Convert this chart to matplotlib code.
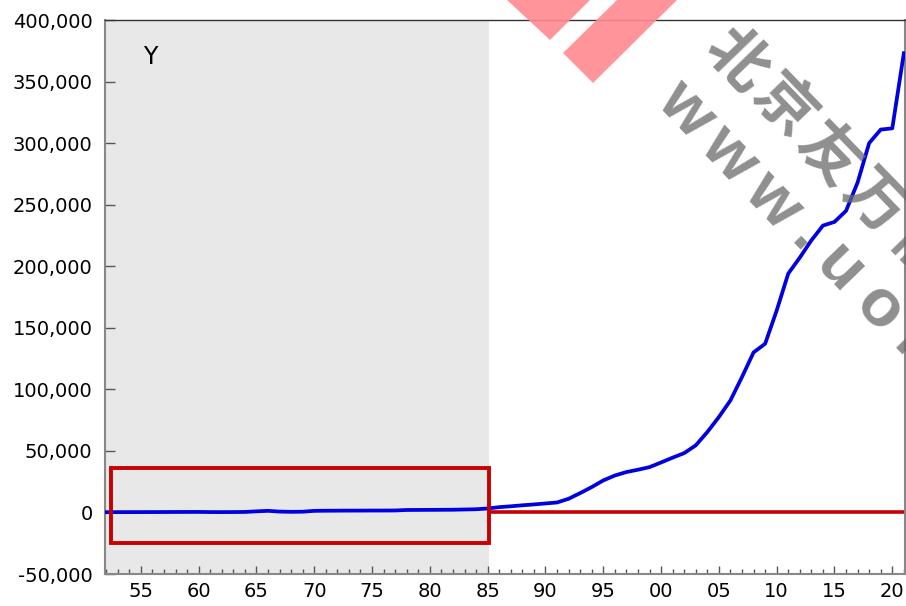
import matplotlib
matplotlib.use("Agg")
import matplotlib.pyplot as plt
from matplotlib.patches import Rectangle, Polygon
from matplotlib.ticker import MultipleLocator, FixedLocator, FuncFormatter
import numpy as np

# Annual series Y, 1952-2021
years = list(range(1952, 2022))
y_values = [
    200, 250, 270, 280, 320, 330, 380, 400, 420, 300,          # 1952-1961
    280, 320, 400, 900, 1300, 700, 500, 600, 1300, 1400,       # 1962-1971
    1450, 1500, 1500, 1550, 1550, 1600, 2000, 2050, 2100, 2150, # 1972-1981
    2200, 2400, 2600, 3200, 4300, 5000, 5800, 6500, 7300, 8100, # 1982-1991
    11100, 15700, 20600, 26000, 30000, 32800, 34700, 36800, 40600, 44500,  # 1992-2001
    48200, 54500, 65300, 77500, 91000, 110000, 130000, 137000, 164000, 194000,  # 2002-2011
    207000, 221000, 233000, 236000, 245000, 268000, 300000, 311000, 312000, 373000,  # 2012-2021
]

y_ticks = list(range(-50000, 400001, 50000))
x_major = list(range(1955, 2021, 5))

series_name = "Y"
shade_span = (1952, 1985.1)
box_x = (1952.4, 1985.1)
box_y = (-25000, 36500)
zero_from = 1985.1

W, H = 906, 606
fig = plt.figure(figsize=(W / 100, H / 100), dpi=100)
ax = fig.add_axes([105 / W, 1 - 574 / H, 800 / W, (574 - 20) / H])

ax.set_xlim(1951.9, 2021.1)
ax.set_ylim(-50000, 400000)

ax.axvspan(shade_span[0] - 1, shade_span[1], color="#e8e8e8", zorder=0, lw=0)

ax.plot(years, y_values, color="#0000e0", lw=2.7, zorder=3, solid_joinstyle="round")
ax.plot([zero_from, 2022], [0, 0], color="#c80000", lw=2.6, zorder=2)
ax.add_patch(Rectangle((box_x[0], box_y[0]), box_x[1] - box_x[0], box_y[1] - box_y[0],
                       fill=False, edgecolor="#c80000", lw=2.8, zorder=4))

ax.text((150 - 105) / 800, 1 - (57.5 - 20) / 554, series_name, transform=ax.transAxes,
        fontsize=17, ha="center", va="center", family="DejaVu Sans")

ax.yaxis.set_major_locator(FixedLocator(y_ticks))
ax.yaxis.set_major_formatter(FuncFormatter(lambda v, p: f"{int(v):,}"))
ax.xaxis.set_major_locator(FixedLocator(x_major))
ax.xaxis.set_minor_locator(MultipleLocator(1))
ax.xaxis.set_major_formatter(FuncFormatter(lambda v, p: f"{int(round(v)) % 100:02d}"))

ax.tick_params(axis="y", direction="in", length=7, width=1, color="#555555",
               labelsize=14, pad=9, right=False)
ax.tick_params(axis="x", which="major", direction="in", length=6, width=1,
               color="#555555", labelsize=14, pad=6, top=False)
ax.tick_params(axis="x", which="minor", direction="in", length=3.5, width=1,
               color="#555555", top=False)
for lab in ax.get_xticklabels() + ax.get_yticklabels():
    lab.set_family("DejaVu Sans")

ax.spines["top"].set_color("#333333")
ax.spines["top"].set_linewidth(1.0)
for s in ("left", "bottom", "right"):
    ax.spines[s].set_color("#888888")
    ax.spines[s].set_linewidth(1.5)


def px(x, y):
    return (x / W, 1 - y / H)


# Pink logo stripes at the top
for poly in ([(507, 0), (590, 0), (550, 40)],
             [(617, 0), (677, 0), (593, 83), (563, 53)]):
    fig.patches.append(Polygon([px(*p) for p in poly], closed=True,
                               transform=fig.transFigure, facecolor="#ff8a90",
                               edgecolor="none", alpha=0.9, zorder=10))

# Gray diagonal watermark
ang = -46
d = np.array([np.cos(np.radians(46)), np.sin(np.radians(46))])
start = np.array([737.0, 60.0])
for i, ch in enumerate("北京友万信"):
    c = start + d * 66 * i
    fig.text(*px(*c), ch, fontsize=44, fontweight="bold", color="#6a6a6a",
             alpha=0.75, rotation=ang, ha="center", va="center",
             family=["Noto Sans CJK SC", "DejaVu Sans"], zorder=11)

start2 = np.array([685.0, 110.0])
steps = [0, 63, 126, 176, 222, 278, 334]
for ch, s in zip("www.uon", steps):
    c = start2 + d * s
    fig.text(*px(*c), ch, fontsize=48, fontweight="bold", color="#6a6a6a",
             alpha=0.75, rotation=ang, ha="center", va="center",
             family="Liberation Sans", zorder=11)

fig.savefig("out.png", dpi=100)
